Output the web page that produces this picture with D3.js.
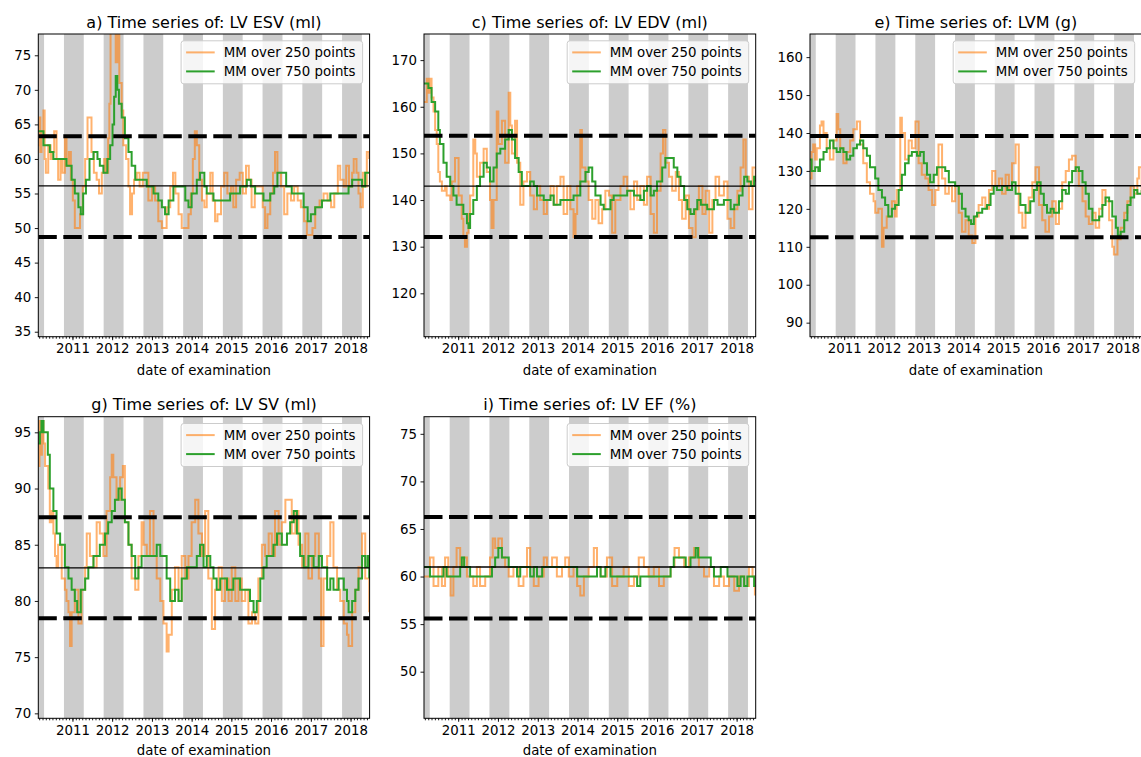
<!DOCTYPE html>
<html>
<head>
<meta charset="utf-8">
<script src="https://cdn.jsdelivr.net/npm/d3@7"></script>
<style>
  body { margin: 0; background: #fff; }
  svg text { font-family: "DejaVu Sans", sans-serif; fill: #000; }
</style>
</head>
<body>
<svg id="fig" width="1141" height="757"></svg>
<script>
// ---- Moving medians, dates as decimal years ----
const esvMm250 = [[2010.14,62],[2010.17,66],[2010.19,61],[2010.22,64],[2010.27,67],[2010.30,60],[2010.33,58],[2010.39,62],[2010.45,60],[2010.50,61],[2010.54,64],[2010.60,60],[2010.64,57],[2010.70,60],[2010.75,58],[2010.81,63],[2010.85,59],[2010.91,61],[2010.96,57],[2011.01,54],[2011.06,50],[2011.12,50],[2011.19,52],[2011.26,56],[2011.32,60],[2011.38,66],[2011.43,66],[2011.48,61],[2011.54,58],[2011.61,57],[2011.67,55],[2011.74,58],[2011.80,60],[2011.85,58],[2011.90,63],[2011.93,68],[2011.96,80],[2012.03,79],[2012.09,74],[2012.13,80],[2012.18,71],[2012.24,67],[2012.28,62],[2012.35,60],[2012.41,56],[2012.45,52],[2012.50,55],[2012.55,57],[2012.62,58],[2012.69,56],[2012.77,58],[2012.84,58],[2012.91,54],[2013.00,56],[2013.08,54],[2013.16,51],[2013.25,50],[2013.31,50],[2013.37,53],[2013.46,56],[2013.53,58],[2013.59,55],[2013.67,52],[2013.75,50],[2013.86,50],[2013.92,52],[2013.98,55],[2014.03,60],[2014.08,64],[2014.13,62],[2014.19,57],[2014.26,54],[2014.32,53],[2014.38,55],[2014.47,58],[2014.53,54],[2014.59,51],[2014.65,52],[2014.74,56],[2014.82,58],[2014.90,55],[2014.99,56],[2015.05,53],[2015.12,57],[2015.21,58],[2015.29,55],[2015.37,59],[2015.44,57],[2015.51,53],[2015.59,56],[2015.71,56],[2015.79,53],[2015.85,50],[2015.91,52],[2015.98,55],[2016.05,58],[2016.10,61],[2016.16,58],[2016.25,56],[2016.33,52],[2016.41,55],[2016.50,54],[2016.58,56],[2016.67,54],[2016.75,53],[2016.83,51],[2016.90,49],[2016.97,49],[2017.04,50],[2017.11,53],[2017.22,54],[2017.32,55],[2017.42,54],[2017.51,53],[2017.59,55],[2017.68,59],[2017.74,57],[2017.83,56],[2017.89,59],[2017.96,56],[2018.04,58],[2018.08,60],[2018.15,58],[2018.20,55],[2018.25,53],[2018.31,58],[2018.37,56],[2018.41,61],[2018.47,60]];
const esvMm750 = [[2010.14,64],[2010.27,62],[2010.43,61],[2010.52,60],[2010.85,59],[2010.98,57],[2011.06,55],[2011.15,53],[2011.21,52],[2011.27,55],[2011.34,57],[2011.43,60],[2011.53,61],[2011.63,60],[2011.69,59],[2011.78,58],[2011.88,60],[2011.95,62],[2012.01,65],[2012.05,69],[2012.09,72],[2012.13,70],[2012.17,68],[2012.24,66],[2012.32,63],[2012.41,61],[2012.49,59],[2012.58,57],[2012.87,56],[2013.04,55],[2013.16,54],[2013.25,53],[2013.33,52],[2013.42,54],[2013.54,56],[2013.84,54],[2013.92,53],[2014.00,55],[2014.13,57],[2014.21,58],[2014.32,56],[2014.38,55],[2014.55,54],[2014.97,55],[2015.22,56],[2015.39,57],[2015.49,56],[2015.60,55],[2015.81,54],[2015.98,55],[2016.08,56],[2016.16,58],[2016.38,56],[2016.52,55],[2016.82,53],[2016.92,51],[2017.00,52],[2017.11,53],[2017.28,54],[2017.49,55],[2017.95,56],[2018.04,57],[2018.29,56],[2018.37,58],[2018.47,58]];

const edvMm250 = [[2010.14,161],[2010.21,166],[2010.25,163],[2010.29,166],[2010.33,162],[2010.38,159],[2010.42,155],[2010.46,152],[2010.50,146],[2010.54,144],[2010.59,142],[2010.67,143],[2010.71,141],[2010.80,140],[2010.84,144],[2010.92,149],[2011.01,141],[2011.09,136],[2011.13,132],[2011.17,130],[2011.22,133],[2011.26,137],[2011.30,141],[2011.38,153],[2011.43,150],[2011.47,145],[2011.55,148],[2011.64,151],[2011.72,146],[2011.80,140],[2011.84,134],[2011.89,140],[2011.97,159],[2012.01,152],[2012.10,157],[2012.18,148],[2012.27,163],[2012.31,156],[2012.35,150],[2012.43,157],[2012.48,148],[2012.56,139],[2012.64,144],[2012.73,146],[2012.81,141],[2012.90,138],[2012.98,143],[2013.06,140],[2013.15,137],[2013.23,140],[2013.32,143],[2013.40,139],[2013.48,143],[2013.57,145],[2013.65,137],[2013.74,143],[2013.82,138],[2013.90,132],[2013.95,137],[2013.99,143],[2014.07,155],[2014.11,147],[2014.20,144],[2014.28,140],[2014.37,136],[2014.45,140],[2014.53,135],[2014.62,138],[2014.70,142],[2014.79,141],[2014.87,133],[2014.95,140],[2015.08,143],[2015.16,145],[2015.25,142],[2015.33,138],[2015.42,144],[2015.50,140],[2015.58,143],[2015.67,139],[2015.75,145],[2015.84,137],[2015.92,133],[2016.00,142],[2016.09,150],[2016.15,155],[2016.21,148],[2016.30,145],[2016.38,142],[2016.47,146],[2016.55,140],[2016.63,136],[2016.72,141],[2016.80,134],[2016.89,132],[2016.97,138],[2017.05,143],[2017.14,137],[2017.22,142],[2017.31,133],[2017.39,140],[2017.47,145],[2017.56,141],[2017.68,144],[2017.77,136],[2017.85,134],[2017.94,138],[2018.02,142],[2018.10,147],[2018.17,153],[2018.23,145],[2018.31,138],[2018.40,147],[2018.48,144]];
const edvMm750 = [[2010.14,165],[2010.25,164],[2010.33,161],[2010.42,159],[2010.50,155],[2010.54,152],[2010.63,148],[2010.71,145],[2010.80,143],[2010.88,141],[2010.96,139],[2011.13,137],[2011.22,135],[2011.26,134],[2011.30,137],[2011.38,140],[2011.47,143],[2011.55,145],[2011.64,148],[2011.72,147],[2011.80,144],[2011.89,147],[2011.97,150],[2012.06,151],[2012.18,153],[2012.27,155],[2012.35,153],[2012.43,149],[2012.52,146],[2012.60,143],[2012.81,144],[2012.90,143],[2012.98,141],[2013.15,140],[2013.32,141],[2013.40,139],[2013.57,140],[2013.90,141],[2014.07,144],[2014.20,146],[2014.28,147],[2014.37,144],[2014.45,141],[2014.58,139],[2014.66,138],[2014.83,140],[2014.91,141],[2015.25,142],[2015.42,141],[2015.58,140],[2015.67,142],[2015.75,143],[2015.84,141],[2015.92,142],[2016.00,144],[2016.13,147],[2016.21,149],[2016.42,147],[2016.51,145],[2016.59,143],[2016.68,140],[2016.76,138],[2016.84,137],[2016.93,138],[2017.01,140],[2017.10,139],[2017.26,138],[2017.43,140],[2017.52,139],[2017.68,140],[2017.85,138],[2017.94,139],[2018.06,141],[2018.15,143],[2018.19,145],[2018.27,144],[2018.36,143],[2018.44,145],[2018.48,144]];

const lvmMm250 = [[2010.14,128],[2010.18,135],[2010.22,137],[2010.27,133],[2010.31,136],[2010.39,142],[2010.43,143],[2010.48,140],[2010.56,136],[2010.64,133],[2010.73,138],[2010.81,145],[2010.85,141],[2010.90,136],[2010.98,132],[2011.06,135],[2011.15,138],[2011.23,141],[2011.32,143],[2011.40,137],[2011.48,132],[2011.57,127],[2011.65,124],[2011.74,122],[2011.78,119],[2011.86,120],[2011.95,110],[2011.99,115],[2012.07,118],[2012.20,122],[2012.28,118],[2012.32,125],[2012.41,144],[2012.45,140],[2012.53,133],[2012.62,138],[2012.70,136],[2012.79,143],[2012.87,132],[2012.95,129],[2013.04,128],[2013.12,125],[2013.21,121],[2013.29,125],[2013.37,137],[2013.46,128],[2013.54,124],[2013.63,126],[2013.71,122],[2013.79,126],[2013.88,119],[2013.96,114],[2014.05,117],[2014.13,113],[2014.22,111],[2014.30,118],[2014.38,121],[2014.47,123],[2014.55,120],[2014.64,125],[2014.72,130],[2014.80,126],[2014.89,128],[2014.97,124],[2015.06,129],[2015.14,125],[2015.22,132],[2015.31,137],[2015.39,119],[2015.48,115],[2015.56,119],[2015.64,123],[2015.73,127],[2015.81,131],[2015.90,121],[2015.98,117],[2016.06,114],[2016.15,118],[2016.23,122],[2016.32,116],[2016.40,120],[2016.48,127],[2016.57,130],[2016.65,133],[2016.73,134],[2016.82,130],[2016.90,126],[2016.99,122],[2017.07,118],[2017.15,116],[2017.24,119],[2017.32,115],[2017.41,120],[2017.49,125],[2017.57,122],[2017.66,117],[2017.74,110],[2017.78,108],[2017.87,112],[2017.95,115],[2018.04,119],[2018.12,122],[2018.20,126],[2018.29,124],[2018.37,128],[2018.41,131],[2018.48,124]];
const lvmMm750 = [[2010.14,133],[2010.18,130],[2010.27,131],[2010.35,130],[2010.39,133],[2010.48,135],[2010.56,136],[2010.64,138],[2010.73,136],[2010.81,135],[2010.90,136],[2010.98,135],[2011.06,133],[2011.15,134],[2011.23,136],[2011.32,137],[2011.40,138],[2011.48,136],[2011.57,134],[2011.65,131],[2011.78,128],[2011.86,125],[2011.95,123],[2012.03,121],[2012.11,118],[2012.20,120],[2012.28,121],[2012.37,125],[2012.45,129],[2012.53,132],[2012.62,134],[2012.70,135],[2012.83,134],[2012.91,135],[2013.00,132],[2013.08,129],[2013.16,127],[2013.25,129],[2013.33,131],[2013.54,130],[2013.63,127],[2013.79,126],[2013.88,124],[2013.96,120],[2014.05,118],[2014.13,117],[2014.19,116],[2014.26,118],[2014.34,119],[2014.47,120],[2014.59,121],[2014.68,124],[2014.76,126],[2014.84,125],[2014.97,126],[2015.10,125],[2015.22,127],[2015.31,124],[2015.43,121],[2015.56,119],[2015.68,122],[2015.77,125],[2015.85,127],[2015.94,124],[2016.02,121],[2016.10,119],[2016.19,120],[2016.27,119],[2016.40,122],[2016.48,125],[2016.57,124],[2016.65,127],[2016.73,130],[2016.82,131],[2016.90,130],[2016.99,127],[2017.07,124],[2017.15,120],[2017.24,117],[2017.41,118],[2017.49,121],[2017.57,123],[2017.66,122],[2017.74,118],[2017.83,115],[2017.88,113],[2017.95,114],[2018.04,117],[2018.12,121],[2018.20,123],[2018.29,125],[2018.37,124],[2018.48,125]];

const svMm250 = [[2010.14,92],[2010.17,96],[2010.20,93],[2010.23,96],[2010.27,94],[2010.31,92],[2010.39,90],[2010.43,87],[2010.48,88],[2010.52,86],[2010.56,84],[2010.60,83],[2010.64,85],[2010.73,82],[2010.81,81],[2010.85,80],[2010.90,79],[2010.94,76],[2010.98,79],[2011.06,81],[2011.15,78],[2011.23,81],[2011.32,83],[2011.36,86],[2011.44,84],[2011.53,83],[2011.61,87],[2011.69,86],[2011.78,84],[2011.86,88],[2011.95,91],[2011.99,93],[2012.03,91],[2012.11,89],[2012.20,91],[2012.27,92],[2012.32,87],[2012.41,85],[2012.49,82],[2012.58,81],[2012.66,84],[2012.74,87],[2012.79,85],[2012.87,84],[2012.95,88],[2013.04,84],[2013.12,82],[2013.21,80],[2013.29,78],[2013.37,75.5],[2013.42,77],[2013.50,81],[2013.58,83],[2013.67,80],[2013.75,84],[2013.84,82],[2013.92,84],[2014.00,87],[2014.09,89],[2014.17,86],[2014.26,84],[2014.34,88],[2014.42,82],[2014.51,77.5],[2014.59,81],[2014.68,83],[2014.76,80],[2014.84,82],[2014.93,80],[2015.01,83],[2015.10,80],[2015.18,82],[2015.26,80],[2015.35,81],[2015.43,78],[2015.52,79],[2015.60,78],[2015.68,82],[2015.77,85],[2015.85,84],[2015.94,86],[2016.02,84],[2016.10,88],[2016.19,85],[2016.27,87],[2016.36,89],[2016.44,89],[2016.52,86],[2016.61,88],[2016.69,85],[2016.78,83],[2016.86,86],[2016.94,82],[2017.03,84],[2017.11,86],[2017.20,82],[2017.26,76],[2017.32,82],[2017.41,84],[2017.49,87],[2017.57,83],[2017.66,81],[2017.74,80],[2017.83,78],[2017.91,77],[2017.95,76],[2018.04,79],[2018.12,81],[2018.20,83],[2018.29,86],[2018.37,82],[2018.47,79]];
const svMm750 = [[2010.14,94],[2010.18,95],[2010.22,96],[2010.27,95],[2010.38,93],[2010.43,90],[2010.52,88],[2010.60,86],[2010.69,85],[2010.81,83],[2010.90,82],[2010.98,81],[2011.06,80],[2011.12,79],[2011.21,81],[2011.32,82],[2011.40,83],[2011.53,84],[2011.69,85],[2011.82,86],[2011.90,87],[2011.99,88],[2012.07,89],[2012.16,90],[2012.24,89],[2012.32,87],[2012.41,85],[2012.49,84],[2012.58,82],[2012.66,83],[2012.74,84],[2013.12,85],[2013.21,84],[2013.37,82],[2013.46,80],[2013.58,81],[2013.67,80],[2013.75,82],[2013.88,83],[2014.13,84],[2014.21,85],[2014.30,83],[2014.38,84],[2014.47,83],[2014.55,82],[2014.63,81],[2014.72,82],[2014.89,81],[2015.05,82],[2015.22,81],[2015.47,80],[2015.56,79],[2015.64,80],[2015.73,82],[2015.81,83],[2015.89,84],[2016.06,85],[2016.15,86],[2016.27,85],[2016.40,86],[2016.48,87],[2016.57,88],[2016.65,86],[2016.73,84],[2016.82,83],[2016.94,84],[2017.07,83],[2017.20,84],[2017.28,83],[2017.41,81],[2017.49,82],[2017.57,81],[2017.70,82],[2017.83,81],[2017.91,80],[2017.95,79],[2018.04,80],[2018.12,81],[2018.20,82],[2018.29,84],[2018.37,83],[2018.43,84],[2018.47,82]];

const efMm250 = [[2010.14,60],[2010.29,62],[2010.38,59],[2010.50,61],[2010.59,59],[2010.67,62],[2010.75,60],[2010.81,58],[2010.88,61],[2010.96,63],[2011.05,61],[2011.13,62],[2011.22,60],[2011.38,59],[2011.47,61],[2011.55,59],[2011.68,60],[2011.80,62],[2011.87,64],[2011.93,63],[2012.01,64],[2012.10,62],[2012.18,61],[2012.27,60],[2012.39,61],[2012.52,59],[2012.64,60],[2012.73,63],[2012.81,61],[2012.90,59],[2013.02,60],[2013.15,62],[2013.23,61],[2013.36,62],[2013.48,60],[2013.61,61],[2013.69,62],[2013.78,60],[2013.90,61],[2013.99,59],[2014.07,58],[2014.16,60],[2014.28,61],[2014.41,63],[2014.49,61],[2014.58,60],[2014.74,62],[2014.87,59],[2015.00,60],[2015.16,61],[2015.29,59],[2015.42,60],[2015.54,62],[2015.67,61],[2015.79,60],[2015.92,61],[2016.05,59],[2016.17,60],[2016.34,61],[2016.44,63],[2016.55,62],[2016.68,61],[2016.80,62],[2016.93,63],[2017.05,61],[2017.18,60],[2017.31,61],[2017.43,59],[2017.56,60],[2017.68,59],[2017.81,60],[2017.94,58.5],[2018.06,60],[2018.19,59],[2018.31,61],[2018.40,60],[2018.46,58]];
const efMm750 = [[2010.14,61],[2010.29,60],[2010.63,61],[2010.71,60],[2011.05,61],[2011.09,62],[2011.15,61],[2011.30,60],[2011.85,61],[2011.93,62],[2012.01,63],[2012.10,62],[2012.27,61],[2012.48,60],[2012.56,61],[2012.81,60],[2012.90,61],[2012.98,60],[2013.11,61],[2013.99,60],[2014.49,61],[2014.58,60],[2014.70,61],[2014.83,60],[2015.50,59],[2015.58,60],[2016.34,61],[2016.42,62],[2016.72,61],[2016.84,62],[2016.97,63],[2017.03,62],[2017.35,61],[2017.43,60],[2017.60,61],[2017.77,60],[2018.02,59],[2018.10,60],[2018.19,59],[2018.27,60],[2018.44,59],[2018.48,59]];

// ---- Panel descriptions ----
const panelTitles = ["a) Time series of: LV ESV (ml)", "c) Time series of: LV EDV (ml)", "e) Time series of: LVM (g)", "g) Time series of: LV SV (ml)", "i) Time series of: LV EF (%)"];
const seriesShort = [esvMm250, edvMm250, lvmMm250, svMm250, efMm250];
const seriesLong = [esvMm750, edvMm750, lvmMm750, svMm750, efMm750];
const meanValues = [56.1, 143.0, 126.1, 82.95, 61.0];
const upperLimits = [63.3, 153.8, 139.2, 87.44, 66.26];
const lowerLimits = [48.7, 132.1, 112.5, 78.46, 55.6];
const yExtents = [[34.28, 78.08], [110.7, 175.6], [86.3, 166.1], [69.56, 96.39], [45.1, 76.8]];
const yTickLabels = [[35,40,45,50,55,60,65,70,75], [120,130,140,150,160,170], [90,100,110,120,130,140,150,160], [70,75,80,85,90,95], [50,55,60,65,70,75]];
const timeExtent = [2010.14, 2018.48];
const winterStarts = ["2009-10-15","2010-10-15","2011-10-15","2012-10-15","2013-10-15","2014-10-15","2015-10-15","2016-10-15","2017-10-15"];
const winterEnds   = ["2010-04-15","2011-04-15","2012-04-15","2013-04-15","2014-04-15","2015-04-15","2016-04-15","2017-04-15","2018-04-15"];
const legendLabels = ["MM over 250 points", "MM over 750 points"];
const xAxisLabel = "date of examination";

// ---- Layout ----
const frames = [
  {left: 38.3, top: 34,    width: 331.3, height: 302.7, labelGap: 38.3},
  {left: 424,  top: 34,    width: 331.7, height: 302.7, labelGap: 38.3},
  {left: 810,  top: 34,    width: 331.7, height: 302.7, labelGap: 38.3},
  {left: 38.3, top: 416.7, width: 331.3, height: 301.6, labelGap: 36.4},
  {left: 424,  top: 416.7, width: 331.7, height: 301.6, labelGap: 36.4}
];
const colorShort = "#ff7f0e", colorLong = "#2ca02c", bandColor = "#cccccc";

function fromDecimalYear(v) {
  const yr = Math.floor(v);
  const a = Date.UTC(yr, 0, 1), b = Date.UTC(yr + 1, 0, 1);
  return new Date(a + (v - yr) * (b - a));
}
const parseDay = d3.utcParse("%Y-%m-%d");

const svg = d3.select("#fig");
svg.append("rect").attr("width", 1141).attr("height", 757).attr("fill", "#fff");

frames.forEach((f, i) => {
  const g = svg.append("g").attr("transform", `translate(${f.left},${f.top})`);
  const x = d3.scaleUtc().domain(timeExtent.map(fromDecimalYear)).range([0, f.width]);
  const y = d3.scaleLinear().domain(yExtents[i]).range([f.height, 0]);

  const clipId = "clip" + i;
  g.append("clipPath").attr("id", clipId)
    .append("rect").attr("width", f.width).attr("height", f.height);
  const plot = g.append("g").attr("clip-path", `url(#${clipId})`);

  // seasonal shading
  plot.selectAll("rect.band").data(d3.zip(winterStarts, winterEnds)).join("rect")
    .attr("class", "band")
    .attr("x", d => x(parseDay(d[0])))
    .attr("width", d => x(parseDay(d[1])) - x(parseDay(d[0])))
    .attr("y", 0).attr("height", f.height)
    .attr("fill", bandColor);

  const line = d3.line().curve(d3.curveStepAfter)
    .x(d => x(fromDecimalYear(d[0])))
    .y(d => y(d[1]));

  plot.append("path").datum(seriesShort[i]).attr("d", line)
    .attr("fill", "none").attr("stroke", colorShort).attr("stroke-opacity", 0.6)
    .attr("stroke-width", 2).attr("stroke-linejoin", "miter");
  plot.append("path").datum(seriesLong[i]).attr("d", line)
    .attr("fill", "none").attr("stroke", colorLong)
    .attr("stroke-width", 2);

  // control limits and mean
  plot.selectAll("line.limit").data([upperLimits[i], lowerLimits[i]]).join("line")
    .attr("class", "limit")
    .attr("x1", 0).attr("x2", f.width)
    .attr("y1", d => y(d)).attr("y2", d => y(d))
    .attr("stroke", "#000").attr("stroke-width", 4)
    .attr("stroke-dasharray", "18.5,6.5");
  plot.append("line")
    .attr("x1", 0).attr("x2", f.width)
    .attr("y1", y(meanValues[i])).attr("y2", y(meanValues[i]))
    .attr("stroke", "#000").attr("stroke-width", 1.3);

  // axes
  const yAxis = g.append("g")
    .call(d3.axisLeft(y).tickValues(yTickLabels[i]).tickSize(3.5).tickPadding(3.5).tickFormat(d3.format("d")));
  const xMinor = g.append("g").attr("transform", `translate(0,${f.height})`)
    .call(d3.axisBottom(x).ticks(d3.utcMonth.every(1)).tickSize(2).tickFormat(""));
  const xMajor = g.append("g").attr("transform", `translate(0,${f.height})`)
    .call(d3.axisBottom(x).ticks(d3.utcYear.every(1)).tickSize(3.5).tickPadding(3.5).tickFormat(d3.utcFormat("%Y")));
  [yAxis, xMinor, xMajor].forEach(ax => {
    ax.attr("font-family", null).attr("font-size", null);
    ax.select(".domain").remove();
    ax.selectAll("line").attr("stroke", "#000").attr("stroke-width", 0.9);
    ax.selectAll("text").style("font-size", "13.33px");
  });

  // frame
  g.append("rect").attr("width", f.width).attr("height", f.height)
    .attr("fill", "none").attr("stroke", "#000").attr("stroke-width", 1);

  // titles
  g.append("text").attr("x", f.width / 2).attr("y", -6.5)
    .attr("text-anchor", "middle").style("font-size", "16px").text(panelTitles[i]);
  g.append("text").attr("x", f.width / 2).attr("y", f.height + f.labelGap)
    .attr("text-anchor", "middle").style("font-size", "13.33px").text(xAxisLabel);

  // legend
  const lw = 181.5, lh = 43;
  const lg = g.append("g").attr("transform", `translate(${f.width - 7 - lw},6.8)`);
  lg.append("rect").attr("width", lw).attr("height", lh).attr("rx", 2.7)
    .attr("fill", "#fff").attr("fill-opacity", 0.8)
    .attr("stroke", "#cccccc").attr("stroke-width", 1);
  const entries = [{c: colorShort, o: 0.6}, {c: colorLong, o: 1}];
  entries.forEach((e, k) => {
    const cy = 11.6 + k * 19;
    lg.append("line").attr("x1", 5).attr("x2", 33.6).attr("y1", cy).attr("y2", cy)
      .attr("stroke", e.c).attr("stroke-opacity", e.o).attr("stroke-width", 2);
    lg.append("text").attr("x", 42.6).attr("y", cy + 4.7)
      .style("font-size", "13.33px").text(legendLabels[k]);
  });
});
</script>
</body>
</html>
